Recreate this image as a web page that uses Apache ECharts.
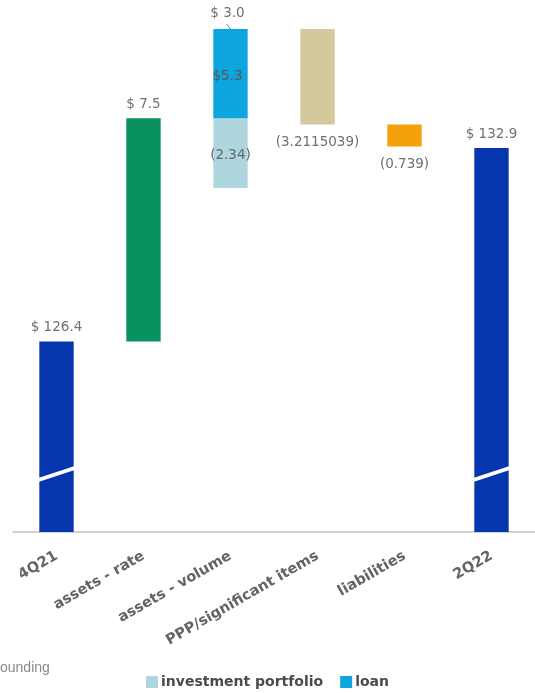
<!DOCTYPE html>
<html>
<head>
<meta charset="utf-8">
<script src="https://cdn.jsdelivr.net/npm/echarts@6/dist/echarts.min.js"></script>
<style>html,body{margin:0;padding:0;background:#fff;}#c{width:535px;height:693px;}</style>
</head>
<body>
<div id="c"></div>
<script>
// ---- data ----
const categories = ['4Q21', 'assets - rate', 'assets - volume', 'PPP/significant items', 'liabilities', '2Q22'];
const totalValues = [126.4, null, null, null, null, 132.9];
const stepValues = [null, 7.5, null, -3.2115039, -0.739, null];
const loanValues = [null, null, 5.3, null, null, null];
const investmentValues = [null, null, -2.34, null, null, null];
const volumeNetValues = [null, null, 3.0, null, null, null];
const valueLabels = ['$ 126.4', '$ 7.5', '$ 3.0', '(3.2115039)', '(0.739)', '$ 132.9'];
const loanLabels = [null, null, '$5.3', null, null, null];
const investmentLabels = [null, null, '(2.34)', null, null, null];
const axisMin = 120, axisMax = 136.9;
const breakLeft = 121.75, breakRight = 122.15;

// ---- styles ----
const FONT = '"DejaVu Sans", "Liberation Sans", Arial, sans-serif';
const totalColor = '#0536AE';
const stepColors = [null, '#0A9160', null, '#D4C89D', '#F6A10B', null];
const loanColor = '#0EA5DE';
const investmentColor = '#ADD6DF';
const labelColor = '#707070';

// ---- waterfall segments ----
let running = 0;
const segTotal = [], segStep = [], segLoan = [], segInv = [];
categories.forEach((c, i) => {
  if (totalValues[i] != null) {
    segTotal.push([i, axisMin, totalValues[i]]);
    running = totalValues[i];
  } else if (stepValues[i] != null) {
    const s = running, e = running + stepValues[i];
    segStep.push([i, Math.min(s, e), Math.max(s, e), stepValues[i] >= 0 ? 1 : -1]);
    running = e;
  } else {
    segLoan.push([i, running, running + loanValues[i]]);
    segInv.push([i, running + investmentValues[i], running]);
    running += volumeNetValues[i];
  }
});

function clampV(v) { return Math.max(axisMin, Math.min(axisMax, v)); }

function barGeom(api) {
  const x = api.value(0);
  const lo = clampV(api.value(1)), hi = clampV(api.value(2));
  const pTop = api.coord([x, hi]), pBot = api.coord([x, lo]);
  const w = api.size([1, 0])[0] * 0.395;
  return { x: x, cx: pTop[0], left: pTop[0] - w / 2, w: w, top: pTop[1], bot: pBot[1] };
}

function txt(text, x, y, align, vAlign, color, size) {
  return { type: 'text', z2: 10, style: { text: text, x: x, y: y, align: align, verticalAlign: vAlign,
    fill: color || labelColor, fontSize: size || 13.5, fontFamily: FONT, fontWeight: 'normal' } };
}

const option = {
  animation: false,
  backgroundColor: '#fff',
  grid: { left: 13, right: -2, top: 29, bottom: 161, containLabel: false },
  xAxis: {
    type: 'category', data: categories,
    axisLine: { lineStyle: { color: '#C4C4C4', width: 1.5 } },
    axisTick: { show: false },
    axisLabel: { interval: 0, rotate: 30, margin: 23, color: '#646464', fontSize: 14.5, fontWeight: 'bold', fontFamily: FONT }
  },
  yAxis: { type: 'value', min: axisMin, max: axisMax, show: false, splitLine: { show: false } },
  legend: {
    data: ['investment portfolio', 'loan'], top: 670, left: 'center',
    icon: 'rect', itemWidth: 12, itemHeight: 12, itemGap: 17,
    textStyle: { fontSize: 14, fontWeight: 'bold', color: '#4A4A4A', fontFamily: FONT, padding: [0, 0, 0, -2] }
  },
  graphic: [{ type: 'text', left: 0, top: 661, style: { text: 'ounding', fontSize: 14, fill: '#8A8A8A', fontFamily: '"Liberation Sans", Arial, sans-serif' } }],
  series: [
    {
      name: 'total', type: 'custom', data: segTotal, encode: { x: 0, y: [1, 2] },
      renderItem: function (params, api) {
        const g = barGeom(api);
        const yl = api.coord([g.x, breakLeft])[1], yr = api.coord([g.x, breakRight])[1];
        return { type: 'group', children: [
          { type: 'rect', shape: { x: g.left, y: g.top, width: g.w, height: g.bot - g.top }, style: { fill: totalColor } },
          { type: 'polygon', shape: { points: [[g.left - 1, yl - 2], [g.left + g.w + 1, yr - 2], [g.left + g.w + 1, yr + 2], [g.left - 1, yl + 2]] }, style: { fill: '#fff' } },
          txt(valueLabels[g.x], g.cx, g.top - 7, 'center', 'bottom')
        ] };
      }
    },
    {
      name: 'step', type: 'custom', data: segStep, encode: { x: 0, y: [1, 2] },
      renderItem: function (params, api) {
        const g = barGeom(api);
        const pos = api.value(3) > 0;
        return { type: 'group', children: [
          { type: 'rect', shape: { x: g.left, y: g.top, width: g.w, height: g.bot - g.top }, style: { fill: stepColors[g.x] } },
          pos ? txt(valueLabels[g.x], g.cx, g.top - 7, 'center', 'bottom')
              : txt(valueLabels[g.x], g.cx, g.bot + 11, 'center', 'top')
        ] };
      }
    },
    {
      name: 'investment portfolio', type: 'custom', data: segInv, encode: { x: 0, y: [1, 2] },
      itemStyle: { color: investmentColor },
      renderItem: function (params, api) {
        const g = barGeom(api);
        return { type: 'group', children: [
          { type: 'rect', shape: { x: g.left, y: g.top, width: g.w, height: g.bot - g.top }, style: { fill: investmentColor } },
          txt(investmentLabels[g.x], g.cx, (g.top + g.bot) / 2 + 2, 'center', 'middle', '#666')
        ] };
      }
    },
    {
      name: 'loan', type: 'custom', data: segLoan, encode: { x: 0, y: [1, 2] },
      itemStyle: { color: loanColor },
      renderItem: function (params, api) {
        const g = barGeom(api);
        return { type: 'group', children: [
          { type: 'rect', shape: { x: g.left, y: g.top, width: g.w, height: g.bot - g.top }, style: { fill: loanColor } },
          { type: 'line', shape: { x1: g.cx - 4, y1: g.top - 5, x2: g.cx, y2: g.top }, style: { stroke: loanColor, lineWidth: 1 } },
          txt(loanLabels[g.x], g.cx - 3, (g.top + g.bot) / 2 + 3, 'center', 'middle', '#575757'),
          txt(valueLabels[g.x], g.cx - 3, g.top - 9, 'center', 'bottom')
        ] };
      }
    }
  ]
};
const chart = echarts.init(document.getElementById('c'), null, { renderer: 'canvas' });
chart.setOption(option);
</script>
</body>
</html>
